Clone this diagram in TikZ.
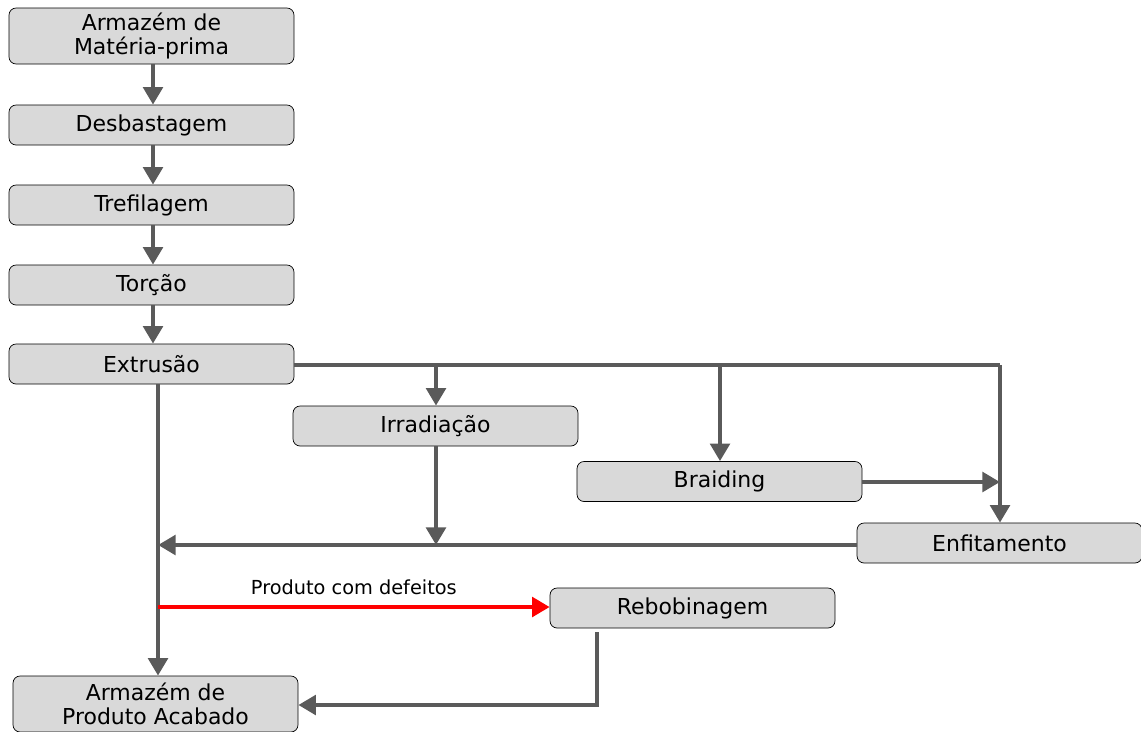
\documentclass[tikz,border=0pt]{standalone}
\usepackage{fontspec}
\setmainfont{DejaVu Sans}
\usepackage{tikz}
\usepackage{xcolor}
\usetikzlibrary{arrows.meta,positioning}
\definecolor{boxgray}{RGB}{217,217,217}
\definecolor{linegray}{RGB}{90,90,90}

\begin{document}
\begin{tikzpicture}[x=0.02cm,y=-0.02cm,
  etapa/.style={draw=black,thin,fill=boxgray,rounded corners=4pt,minimum width=5.7cm,minimum height=0.8cm,align=center,font=\fontsize{12.5}{14}\selectfont,inner sep=1pt},
  fluxo/.style={draw=linegray,line width=2.8pt,-{Triangle[length=10pt,width=11pt]}},
  linha/.style={draw=linegray,line width=2.8pt}]
\useasboundingbox (0,0) rectangle (1141,731);
\node[etapa,minimum height=1.12cm](mp) at (151.5,36) {Armazém de\\Matéria-prima};
\node[etapa](desb) at (151.5,125) {Desbastagem};
\node[etapa](tref) at (151.5,205) {Trefilagem};
\node[etapa](torc) at (151.5,285) {Torção};
\node[etapa](extr) at (151.5,364) {Extrusão};
\node[etapa](irr) at (435.5,426) {Irradiação};
\node[etapa](braid) at (719.5,481.5) {Braiding};
\node[etapa](enf) at (999.5,543) {Enfitamento};
\node[etapa](rebob) at (692.5,608) {Rebobinagem};
\node[etapa,minimum height=1.12cm](pa) at (155.5,704) {Armazém de\\Produto Acabado};
\coordinate (c1) at (1000,365);
\coordinate (c2) at (436,365);
\coordinate (c3) at (720,365);
\coordinate (c4) at (1000,482);
\coordinate (c5) at (436,545);
\coordinate (c6) at (158,545);
\coordinate (c7) at (158,607);
\coordinate (c8) at (597,632);
\coordinate (c9) at (597,705);
\draw[fluxo] (mp.south -| 153,0) -- (desb.north -| 153,0);
\draw[fluxo] (desb.south -| 153,0) -- (tref.north -| 153,0);
\draw[fluxo] (tref.south -| 153,0) -- (torc.north -| 153,0);
\draw[fluxo] (torc.south -| 153,0) -- (extr.north -| 153,0);
\draw[linha] (extr.east |- c1) -- (c1);
\draw[fluxo] (c1) -- (enf.north -| c1);
\draw[fluxo] (c2) -- (irr.north -| c2);
\draw[fluxo] (c3) -- (braid.north -| c3);
\draw[fluxo] (braid.east |- c4) -- (c4);
\draw[fluxo] (irr.south -| c5) -- (c5);
\draw[fluxo] (enf.west |- c6) -- (c6);
\draw[fluxo] (extr.south -| c6) -- (pa.north -| c6);
\draw[red,line width=2.8pt,-{Triangle[length=10pt,width=11pt]}] (c7) -- node[above=2pt,black,font=\fontsize{11}{13}\selectfont]{Produto com defeitos} (rebob.west |- c7);
\draw[fluxo] (c8) -- (c9) -- (pa.east |- c9);
\end{tikzpicture}
\end{document}
